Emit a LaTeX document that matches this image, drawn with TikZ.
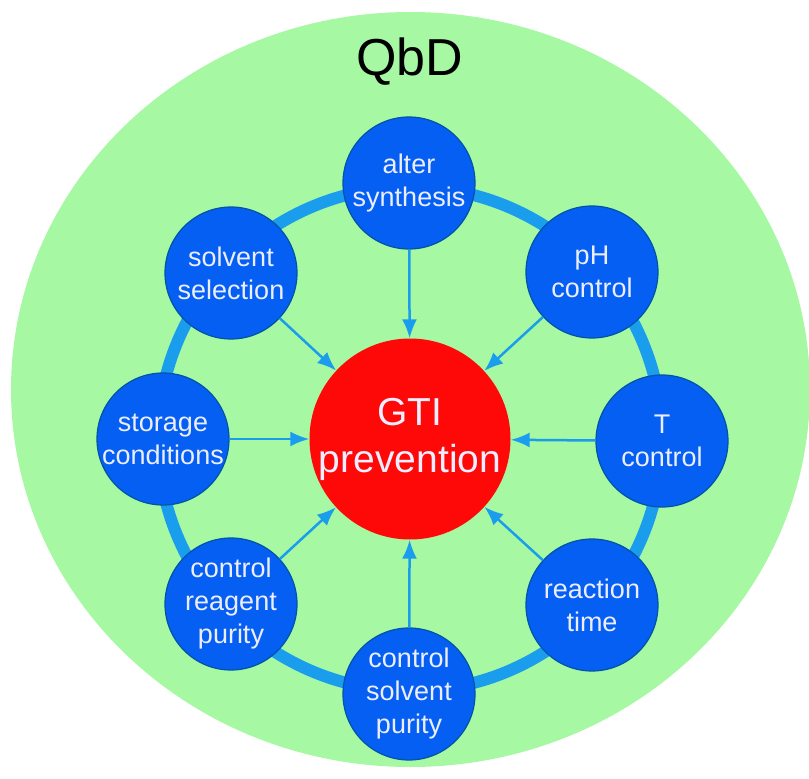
\documentclass[tikz,border=0pt]{standalone}
\usepackage{fontspec}
\setmainfont{Liberation Sans}
\usetikzlibrary{arrows.meta}

\definecolor{qbdgreen}{HTML}{A6F8A2}
\definecolor{nodeblue}{HTML}{045FF2}
\definecolor{linkblue}{HTML}{1B9DEE}
\definecolor{gtired}{HTML}{FF0808}
\definecolor{textwhite}{HTML}{ECEEFF}

\begin{document}
\begin{tikzpicture}[x=1pt, y=-1pt, >={Latex[length=19pt,width=15pt]},
  leaf/.style={circle, fill=nodeblue, draw=nodeblue!70!teal!80!black,
    line width=1.2pt, minimum size=132pt, inner sep=0pt, align=center,
    text=textwhite, font=\fontsize{27}{33}\selectfont},
  hub/.style={circle, fill=gtired, minimum size=201pt, inner sep=0pt,
    align=center, text=textwhite, font=\fontsize{39}{47}\selectfont},
  link/.style={->, linkblue, line width=2.5pt}]

\useasboundingbox (0,0) rectangle (809,779);

\def\Rring{252pt}

\coordinate (G) at (410.5,389.5);
\coordinate (C) at (410,439);

% background
\fill[qbdgreen] (G) ellipse [x radius=399.5pt, y radius=377.5pt];
\node[anchor=base, font=\fontsize{52}{60}\selectfont] (qbd) at (410,75) {QbD};

\draw[linkblue, line width=12pt] (C) circle [radius=\Rring];

% centre
\node[hub] (gti) at (C) {GTI\\prevention};

% measures round the ring
\node[leaf] (alter)   at (409,183) {alter\\synthesis};
\node[leaf] (ph)      at (592,272) {pH\\control};
\node[leaf] (temp)    at (662,441) {T\\control};
\node[leaf] (rtime)   at (592,605) {reaction\\time};
\node[leaf] (solvpur) at (409,694) {control\\solvent\\purity};
\node[leaf] (reagpur) at (231,604) {control\\reagent\\purity};
\node[leaf] (storage) at (163,439) {storage\\conditions};
\node[leaf] (solvsel) at (231,273) {solvent\\selection};

\draw[link] (alter) -- (gti);
\draw[link] (ph) -- (gti);
\draw[link] (temp) -- (gti);
\draw[link] (rtime) -- (gti);
\draw[link] (solvpur) -- (gti);
\draw[link] (reagpur) -- (gti);
\draw[link] (storage) -- (gti);
\draw[link] (solvsel) -- (gti);

\end{tikzpicture}
\end{document}
